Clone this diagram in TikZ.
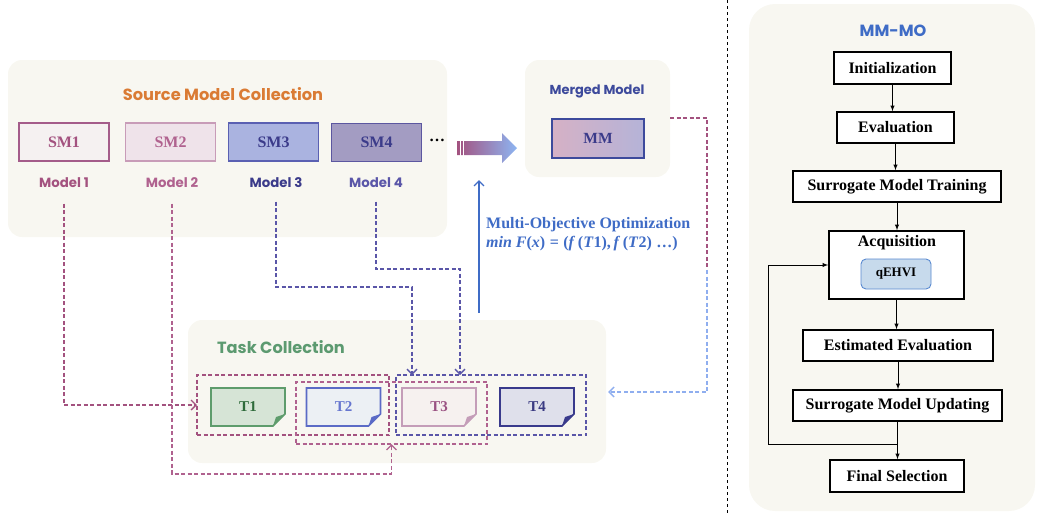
\documentclass[tikz,border=0pt]{standalone}
\usepackage{fontspec}
\setmainfont{Liberation Serif}
\newfontfamily\roundfont{Poppins}
\usepackage{amsmath}
\usetikzlibrary{arrows}
\usetikzlibrary{arrows.meta}
\usetikzlibrary{positioning}

\definecolor{panelbg}{HTML}{F8F7F1}
\definecolor{srcorange}{HTML}{DA7B34}
\definecolor{plum}{HTML}{A3527F}
\definecolor{lplum}{HTML}{B0628F}
\definecolor{slate}{HTML}{5A56A8}
\definecolor{indigo}{HTML}{3B3B8A}
\definecolor{mergeblue}{HTML}{3D4A9C}
\definecolor{optblue}{HTML}{3F6CC6}
\definecolor{skyblue}{HTML}{8DB5F2}
\definecolor{paleblue}{HTML}{8FAEEF}
\definecolor{taskgreen}{HTML}{5C9A70}
\definecolor{qfill}{HTML}{C7DAEC}
\definecolor{qline}{HTML}{5A8AD0}
% source model boxes
\definecolor{smAline}{HTML}{A45C8A}\definecolor{smAfill}{HTML}{F5F1F1}
\definecolor{smBline}{HTML}{C89CB8}\definecolor{smBfill}{HTML}{EFE3EA}
\definecolor{smCline}{HTML}{5A60B2}\definecolor{smCfill}{HTML}{AAB3E0}
\definecolor{smDline}{HTML}{5C57A0}\definecolor{smDfill}{HTML}{A39CC2}
% task notes
\definecolor{taskAline}{HTML}{5E9C6C}\definecolor{taskAfill}{HTML}{D6E4D6}\definecolor{taskAtext}{HTML}{2F6B3B}
\definecolor{taskBline}{HTML}{5B6BC6}\definecolor{taskBfill}{HTML}{ECF0F4}\definecolor{taskBtext}{HTML}{6676CF}
\definecolor{taskCline}{HTML}{C49DB8}\definecolor{taskCfill}{HTML}{F6F1EF}\definecolor{taskCtext}{HTML}{9A5282}
\definecolor{taskDline}{HTML}{393A8C}\definecolor{taskDfill}{HTML}{DFE0EB}\definecolor{taskDtext}{HTML}{3A3A82}

\tikzset{>={Straight Barb[length=5pt,width=10pt]},
panel/.style={ % Sets the light background blocks
fill=panelbg, rounded corners=14pt, inner sep=0pt},
title/.style={font=\roundfont\bfseries\fontsize{16.2}{19}\selectfont},
modellabel/.style={font=\roundfont\bfseries\fontsize{13.3}{15}\selectfont},
smbox/.style={line width=1.6pt, minimum width=90pt, minimum height=38pt,
font=\bfseries\fontsize{16}{19}\selectfont},
tasknote/.style={minimum width=74pt, minimum height=38pt,
font=\bfseries\fontsize{15}{18}\selectfont},
group/.style={draw, dashed, dash pattern=on 4pt off 2.5pt, line width=1.3pt, inner sep=0pt, outer sep=0pt},
link/.style={ % Sets the dashed model-to-task connectors
dashed, dash pattern=on 4pt off 2.5pt, line width=1.3pt, ->},
flowbox/.style={draw, line width=1.6pt, fill=white, inner sep=0pt,
font=\bfseries\fontsize{16}{19}\selectfont},
flowarrow/.style={-latex, line width=0.9pt}}

\begin{document}
\begin{tikzpicture}[x=1pt,y=-1pt]
	\useasboundingbox (0,0) rectangle (1037,515);
	% panels
	\node[panel, minimum width=439pt, minimum height=177pt] (srcbg) at (227.5,148.5) {};
	\node[panel, minimum width=145pt, minimum height=117pt] (mergedbg) at (597.5,118.5) {};
	\node[panel, minimum width=418pt, minimum height=143pt] (taskbg) at (397,391.5) {};
	\node[panel, rounded corners=26pt, minimum width=286pt, minimum height=507pt] (flowbg) at (892,257.5) {};
	\draw[dashed, dash pattern=on 3pt off 3pt, line width=1pt] (727,0) -- (727,515);
	% source models
	\node[title, text=srcorange] (srctitle) at (223,94) {Source Model Collection};
	\node[smbox, draw=smAline, fill=smAfill, text=plum] (sm1) at (64,142) {SM1};
	\node[smbox, draw=smBline, fill=smBfill, text=lplum] (sm2) at (170.5,142) {SM2};
	\node[smbox, draw=smCline, fill=smCfill, text=indigo] (sm3) at (273.5,142) {SM3};
	\node[smbox, draw=smDline, fill=smDfill, text=indigo] (sm4) at (376.5,142.5) {SM4};
	\node[font=\bfseries\fontsize{16}{19}\selectfont] (dots) at (437,140) {\dots};
	\node[modellabel, text=plum] (m1) at (64,183) {Model 1};
	\node[modellabel, text=lplum] (m2) at (172,183) {Model 2};
	\node[modellabel, text=indigo] (m3) at (276,183) {Model 3};
	\node[modellabel, text=slate] (m4) at (376,183) {Model 4};
	% merging
	\shade[left color=plum, right color=skyblue] (457,141) -- (502,141) -- (502,133) -- (517,148)
		-- (502,163) -- (502,155) -- (457,155) -- cycle;
	\foreach \s in {460,463}
		\draw[white, line width=0.8pt] (\s,140) -- (\s,156);
	\node[title, text=mergeblue, font=\roundfont\bfseries\fontsize{13}{15}\selectfont] (mergedtitle) at (597,91) {Merged Model};
	\node[draw=mergeblue, line width=1.8pt, minimum width=92pt, minimum height=39pt,
		left color=plum!45, middle color=white, right color=slate!45,
		text=indigo, font=\bfseries\fontsize{15.5}{18}\selectfont] (mm) at (598,138.5) {MM};
	\coordinate (optfoot) at (479,313);
	\coordinate (opthead) at (479,180);
	\draw[->, optblue, line width=1.3pt] (optfoot) -- (opthead);
	\node[anchor=north west, align=left, inner sep=0pt, text=optblue,
		font=\bfseries\fontsize{16}{19}\selectfont] (opt) at (486,217)
		{Multi-Objective Optimization\\\textit{min F}(\textit{x})\;=\;(\textit{f}\,(\textit{T}1),\,\textit{f}\,(\textit{T}2)\;\dots)};
	% tasks
	\node[title, text=taskgreen] (tasktitle) at (281,347) {Task Collection};
	\foreach \n/\lbl/\x/\c in {t1/T1/248/A, t2/T2/343.5/B, t3/T3/439/C, t4/T4/537/D} {
		\draw[line width=1.6pt, draw=task\c line, fill=task\c fill] (\x-37,388) -- (\x+37,388)
			-- (\x+37,414) -- (\x+25,426) -- (\x-37,426) -- cycle;
		\fill[task\c line] (\x+37,414) -- (\x+28,417) -- (\x+25,426) -- cycle;
		\node[tasknote, text=task\c text] (\n) at (\x,407) {\lbl};
	}
	\node[group, draw=plum, minimum width=192pt, minimum height=60pt] (grpA) at (293,405) {};
	\node[group, draw=lplum, minimum width=191pt, minimum height=62pt] (grpB) at (391.5,413) {};
	\node[group, draw=slate, minimum width=190pt, minimum height=60pt] (grpC) at (491,405) {};
	% model to task links
	\draw[link, plum, shorten <=12pt] (m1.south) |- (grpA.west);
	\draw[link, lplum, shorten <=12pt] (m2.south) -- (m2.south |- 0,474) -| (grpB.south);
	\draw[link, slate, shorten <=10pt] (m3.south) -- (m3.south |- 0,287) -| ([xshift=16pt]grpC.north west);
	\draw[link, slate, shorten <=10pt] (m4.south) -- (m4.south |- 0,269) -| ([xshift=64pt]grpC.north west);
	\coordinate (mmturn) at (707,270);
	\draw[link, -, plum] (mergedbg.east |- mm.north) -| (mmturn);
	\draw[link, paleblue] (mmturn) |- ([xshift=2pt]taskbg.east |- 0,392);
	% MM-MO flow
	\node[title, text=optblue] (flowtitle) at (893,31) {MM-MO};
	\node[flowbox, minimum width=117pt, minimum height=32pt] (init) at (892.5,68) {Initialization};
	\node[flowbox, minimum width=117pt, minimum height=31pt] (eval) at (895.5,127.5) {Evaluation};
	\node[flowbox, minimum width=208pt, minimum height=31pt] (train) at (897,186.5) {Surrogate Model Training};
	\node[flowbox, minimum width=135pt, minimum height=68pt] (acq) at (896.5,265) {};
	\node[font=\bfseries\fontsize{16}{19}\selectfont] (acqtitle) at (897,243) {Acquisition};
	\node[draw=qline, fill=qfill, rounded corners=5pt, line width=0.9pt, minimum width=70pt, minimum height=30pt,
		font=\bfseries\fontsize{13}{15}\selectfont] (qehvi) at (896,274) {qEHVI};
	\node[flowbox, minimum width=190pt, minimum height=31pt] (est) at (898,345.5) {Estimated Evaluation};
	\node[flowbox, minimum width=209pt, minimum height=31pt] (upd) at (897.5,405.5) {Surrogate Model Updating};
	\node[flowbox, minimum width=134pt, minimum height=32pt] (fin) at (897,476) {Final Selection};
	\draw[flowarrow] (init) -- (init |- eval.north);
	\draw[flowarrow] (eval) -- (eval |- train.north);
	\draw[flowarrow] (train) -- (train |- acq.north);
	\draw[flowarrow] (acq) -- (acq |- est.north);
	\draw[flowarrow] (est) -- (est |- upd.north);
	\draw[flowarrow] (upd) -- (upd |- fin.north);
	\coordinate (split) at (897,444);
	\draw[flowarrow] (split) -| ([xshift=-60pt]acq.west) -- (acq.west);
\end{tikzpicture}
\end{document}
